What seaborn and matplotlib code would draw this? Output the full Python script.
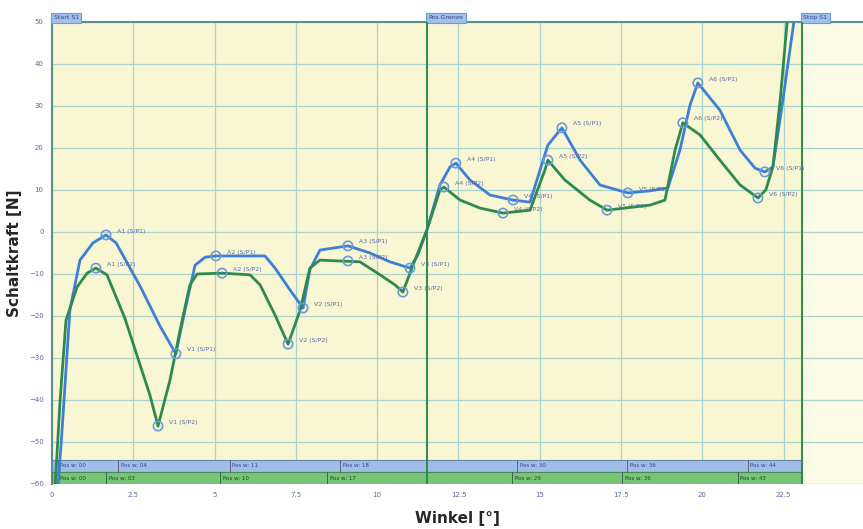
import numpy as np
import pandas as pd
import matplotlib.pyplot as plt
import seaborn as sns

# curve data (Winkel in deg, Schaltkraft in N)
blue_x = [0.18, 0.31, 0.55, 0.86, 1.26, 1.66, 1.97, 2.71, 3.32, 3.81, 4.09, 4.40, 4.71,
          5.04, 5.78, 6.55, 6.86, 7.32, 7.72, 7.93, 8.24, 9.10, 9.78, 10.39, 11.01, 11.25, 11.53,
          11.93, 12.24, 12.42, 12.85, 13.47, 14.18, 14.70, 15.01, 15.25, 15.68, 16.24, 16.85,
          17.71, 18.39, 18.94, 19.31, 19.62, 19.86, 20.54, 21.16, 21.62, 21.92, 22.17, 22.45, 22.85]
blue_y = [-61.4, -47.1, -18.6, -6.7, -2.6, -0.7, -2.6, -12.9, -22.4, -29.0, -18.6, -7.9, -6.0,
          -5.7, -5.7, -5.7, -8.6, -13.8, -18.1, -9.0, -4.3, -3.3, -5.0, -7.1, -8.6, -5.5, 0.5,
          11.2, 15.5, 16.4, 12.4, 8.8, 7.6, 7.1, 14.8, 20.7, 24.8, 17.1, 11.2,
          9.3, 9.8, 10.5, 19.5, 30.2, 35.5, 29.0, 19.5, 15.2, 14.3, 15.5, 30.0, 52.0]

green_x = [0.09, 0.25, 0.43, 0.77, 1.08, 1.35, 1.69, 2.24, 2.71, 3.01, 3.26, 3.63, 3.94, 4.24,
           4.46, 5.23, 6.09, 6.40, 6.86, 7.26, 7.63, 7.93, 8.24, 9.47, 10.09, 10.55, 10.79, 11.16,
           11.53, 11.93, 12.05, 12.55, 13.16, 13.87, 14.70, 15.16, 15.25, 15.77, 16.54, 17.07,
           18.39, 18.85, 19.16, 19.40, 19.93, 20.54, 21.16, 21.71, 21.95, 22.17, 22.40, 22.63]
green_y = [-61.4, -40.0, -21.0, -13.1, -9.8, -8.6, -10.2, -20.5, -31.7, -38.8, -46.2, -35.2, -23.3, -12.6,
           -10.0, -9.8, -10.2, -12.6, -19.8, -26.7, -18.6, -8.6, -6.7, -7.1, -10.2, -12.6, -14.3, -6.7,
           0.5, 10.0, 10.7, 7.6, 5.7, 4.5, 5.2, 14.8, 17.1, 12.4, 7.6, 5.2,
           6.4, 7.6, 19.5, 26.0, 23.1, 17.1, 11.2, 8.1, 10.0, 15.5, 32.0, 52.0]

# marked extrema
blue_mx = [1.66, 3.81, 5.04, 7.72, 9.10, 11.01, 12.42, 14.18, 15.68, 17.71, 19.86, 21.92]
blue_my = [-0.7, -29.0, -5.7, -18.1, -3.3, -8.6, 16.4, 7.6, 24.8, 9.3, 35.5, 14.3]
blue_lbl = ["A1 (S/P1)", "V1 (S/P1)", "A2 (S/P1)", "V2 (S/P1)", "A3 (S/P1)", "V3 (S/P1)",
            "A4 (S/P1)", "V4 (S/P1)", "A5 (S/P1)", "V5 (S/P1)", "A6 (S/P1)", "V6 (S/P1)"]
green_mx = [1.35, 3.26, 5.23, 7.26, 9.10, 10.79, 12.05, 13.87, 15.25, 17.07, 19.40, 21.71]
green_my = [-8.6, -46.2, -9.8, -26.7, -6.9, -14.3, 10.7, 4.5, 17.1, 5.2, 26.0, 8.1]
green_lbl = ["A1 (S/P2)", "V1 (S/P2)", "A2 (S/P2)", "V2 (S/P2)", "A3 (S/P2)", "V3 (S/P2)",
             "A4 (S/P2)", "V4 (S/P2)", "A5 (S/P2)", "V5 (S/P2)", "A6 (S/P2)", "V6 (S/P2)"]

# position bands at the bottom
blue_seg = [0.18, 2.03, 5.47, 8.86, 14.30, 17.68, 21.40]
blue_seg_txt = ["Pos w: 00", "Pos w: 04", "Pos w: 11", "Pos w: 18", "Pos w: 30", "Pos w: 36", "Pos w: 44"]
green_seg = [0.18, 1.66, 5.17, 8.46, 14.15, 17.53, 21.09]
green_seg_txt = ["Pos w: 00", "Pos w: 03", "Pos w: 10", "Pos w: 17", "Pos w: 29", "Pos w: 36", "Pos w: 43"]

markers_x = [0.0, 11.53, 23.06]
markers_txt = ["Start S1", "Pos.Grenze", "Stop S1"]

xticks = [0, 2.5, 5, 7.5, 10, 12.5, 15, 17.5, 20, 22.5]
yticks = list(range(-60, 51, 10))

BLUE = "#3d7fd6"
GREEN = "#2e8a4c"
TXT = "#5a6aac"
GRID = "#a9d3cc"

sns.set_style("white")
fig = plt.figure(figsize=(8.63, 5.29), dpi=100)
ax = fig.add_axes([52 / 863, 45 / 529, 811 / 863, 462 / 529])
ax.set_facecolor("#f9f7d3")

df = pd.concat([
    pd.DataFrame({"Winkel": blue_x, "Kraft": blue_y, "Kurve": "S/P1"}),
    pd.DataFrame({"Winkel": green_x, "Kraft": green_y, "Kurve": "S/P2"}),
])
sns.lineplot(data=df, x="Winkel", y="Kraft", hue="Kurve", palette=[BLUE, GREEN],
             sort=False, estimator=None, linewidth=2.0, legend=False, ax=ax, zorder=4)

for mx, my, lbl in [(blue_mx, blue_my, blue_lbl), (green_mx, green_my, green_lbl)]:
    sns.scatterplot(x=mx, y=my, ax=ax, s=45, facecolors="none", edgecolor="#6a9ad8",
                    linewidth=1.2, zorder=5, legend=False)
    for xx, yy, t in zip(mx, my, lbl):
        ax.annotate(t, (xx, yy), xytext=(8, 1), textcoords="offset points",
                    fontsize=4.5, color=TXT, va="bottom", zorder=6)

ax.set_xlim(0, 24.94)
ax.set_ylim(-60, 50)
ax.set_xticks(xticks)
ax.set_xticklabels(["0", "2.5", "5", "7.5", "10", "12.5", "15", "17.5", "20", "22.5"])
ax.set_yticks(yticks)
ax.tick_params(axis="both", labelsize=5, colors=TXT, direction="inout", length=5, width=0.8)
ax.grid(True, color=GRID, linewidth=0.9)
ax.set_axisbelow(True)
for s in ["top", "left"]:
    ax.spines[s].set_color("#5d8f8f")
    ax.spines[s].set_linewidth(1.5)
for s in ["right", "bottom"]:
    ax.spines[s].set_visible(False)

# lighter area after the stop marker
ax.axvspan(markers_x[2], 24.94, color="#fbfbe6", zorder=0.5)

# bands
frac = markers_x[2] / 24.94
ax.axhspan(-57.14, -54.3, xmax=frac, facecolor="#9fbde6", edgecolor="#6688aa", linewidth=0.8, zorder=3)
ax.axhspan(-60, -57.14, xmax=frac, facecolor="#78c477", edgecolor="#4a8a55", linewidth=0.8, zorder=3)
for sx, t in zip(blue_seg, blue_seg_txt):
    ax.plot([sx, sx], [-57.1, -54.3], color="#556", linewidth=0.6, zorder=3.5)
    ax.text(sx + 0.08, -55.7, t, fontsize=4, color="#334488", va="center", zorder=3.6)
for sx, t in zip(green_seg, green_seg_txt):
    ax.plot([sx, sx], [-60, -57.1], color="#354", linewidth=0.6, zorder=3.5)
    ax.text(sx + 0.08, -58.6, t, fontsize=4, color="#224422", va="center", zorder=3.6)

# marker lines and tabs
for mx, t in zip(markers_x, markers_txt):
    if mx > 0:
        ax.axvline(mx, color="#2e8a4c", linewidth=1.4, zorder=3.8)
    ax.text(mx + 0.05, 50.4, t, fontsize=4.5, color="#334488", va="bottom", ha="left",
            bbox=dict(boxstyle="square,pad=0.35", facecolor="#9ec1ee", edgecolor="#6f9ad6", linewidth=0.8),
            clip_on=False)

ax.set_xlabel("Winkel [°]", fontsize=11, fontweight="bold", labelpad=9)
ax.set_ylabel("Schaltkraft [N]", fontsize=11, fontweight="bold", labelpad=5)

fig.savefig("out.png", dpi=100)
